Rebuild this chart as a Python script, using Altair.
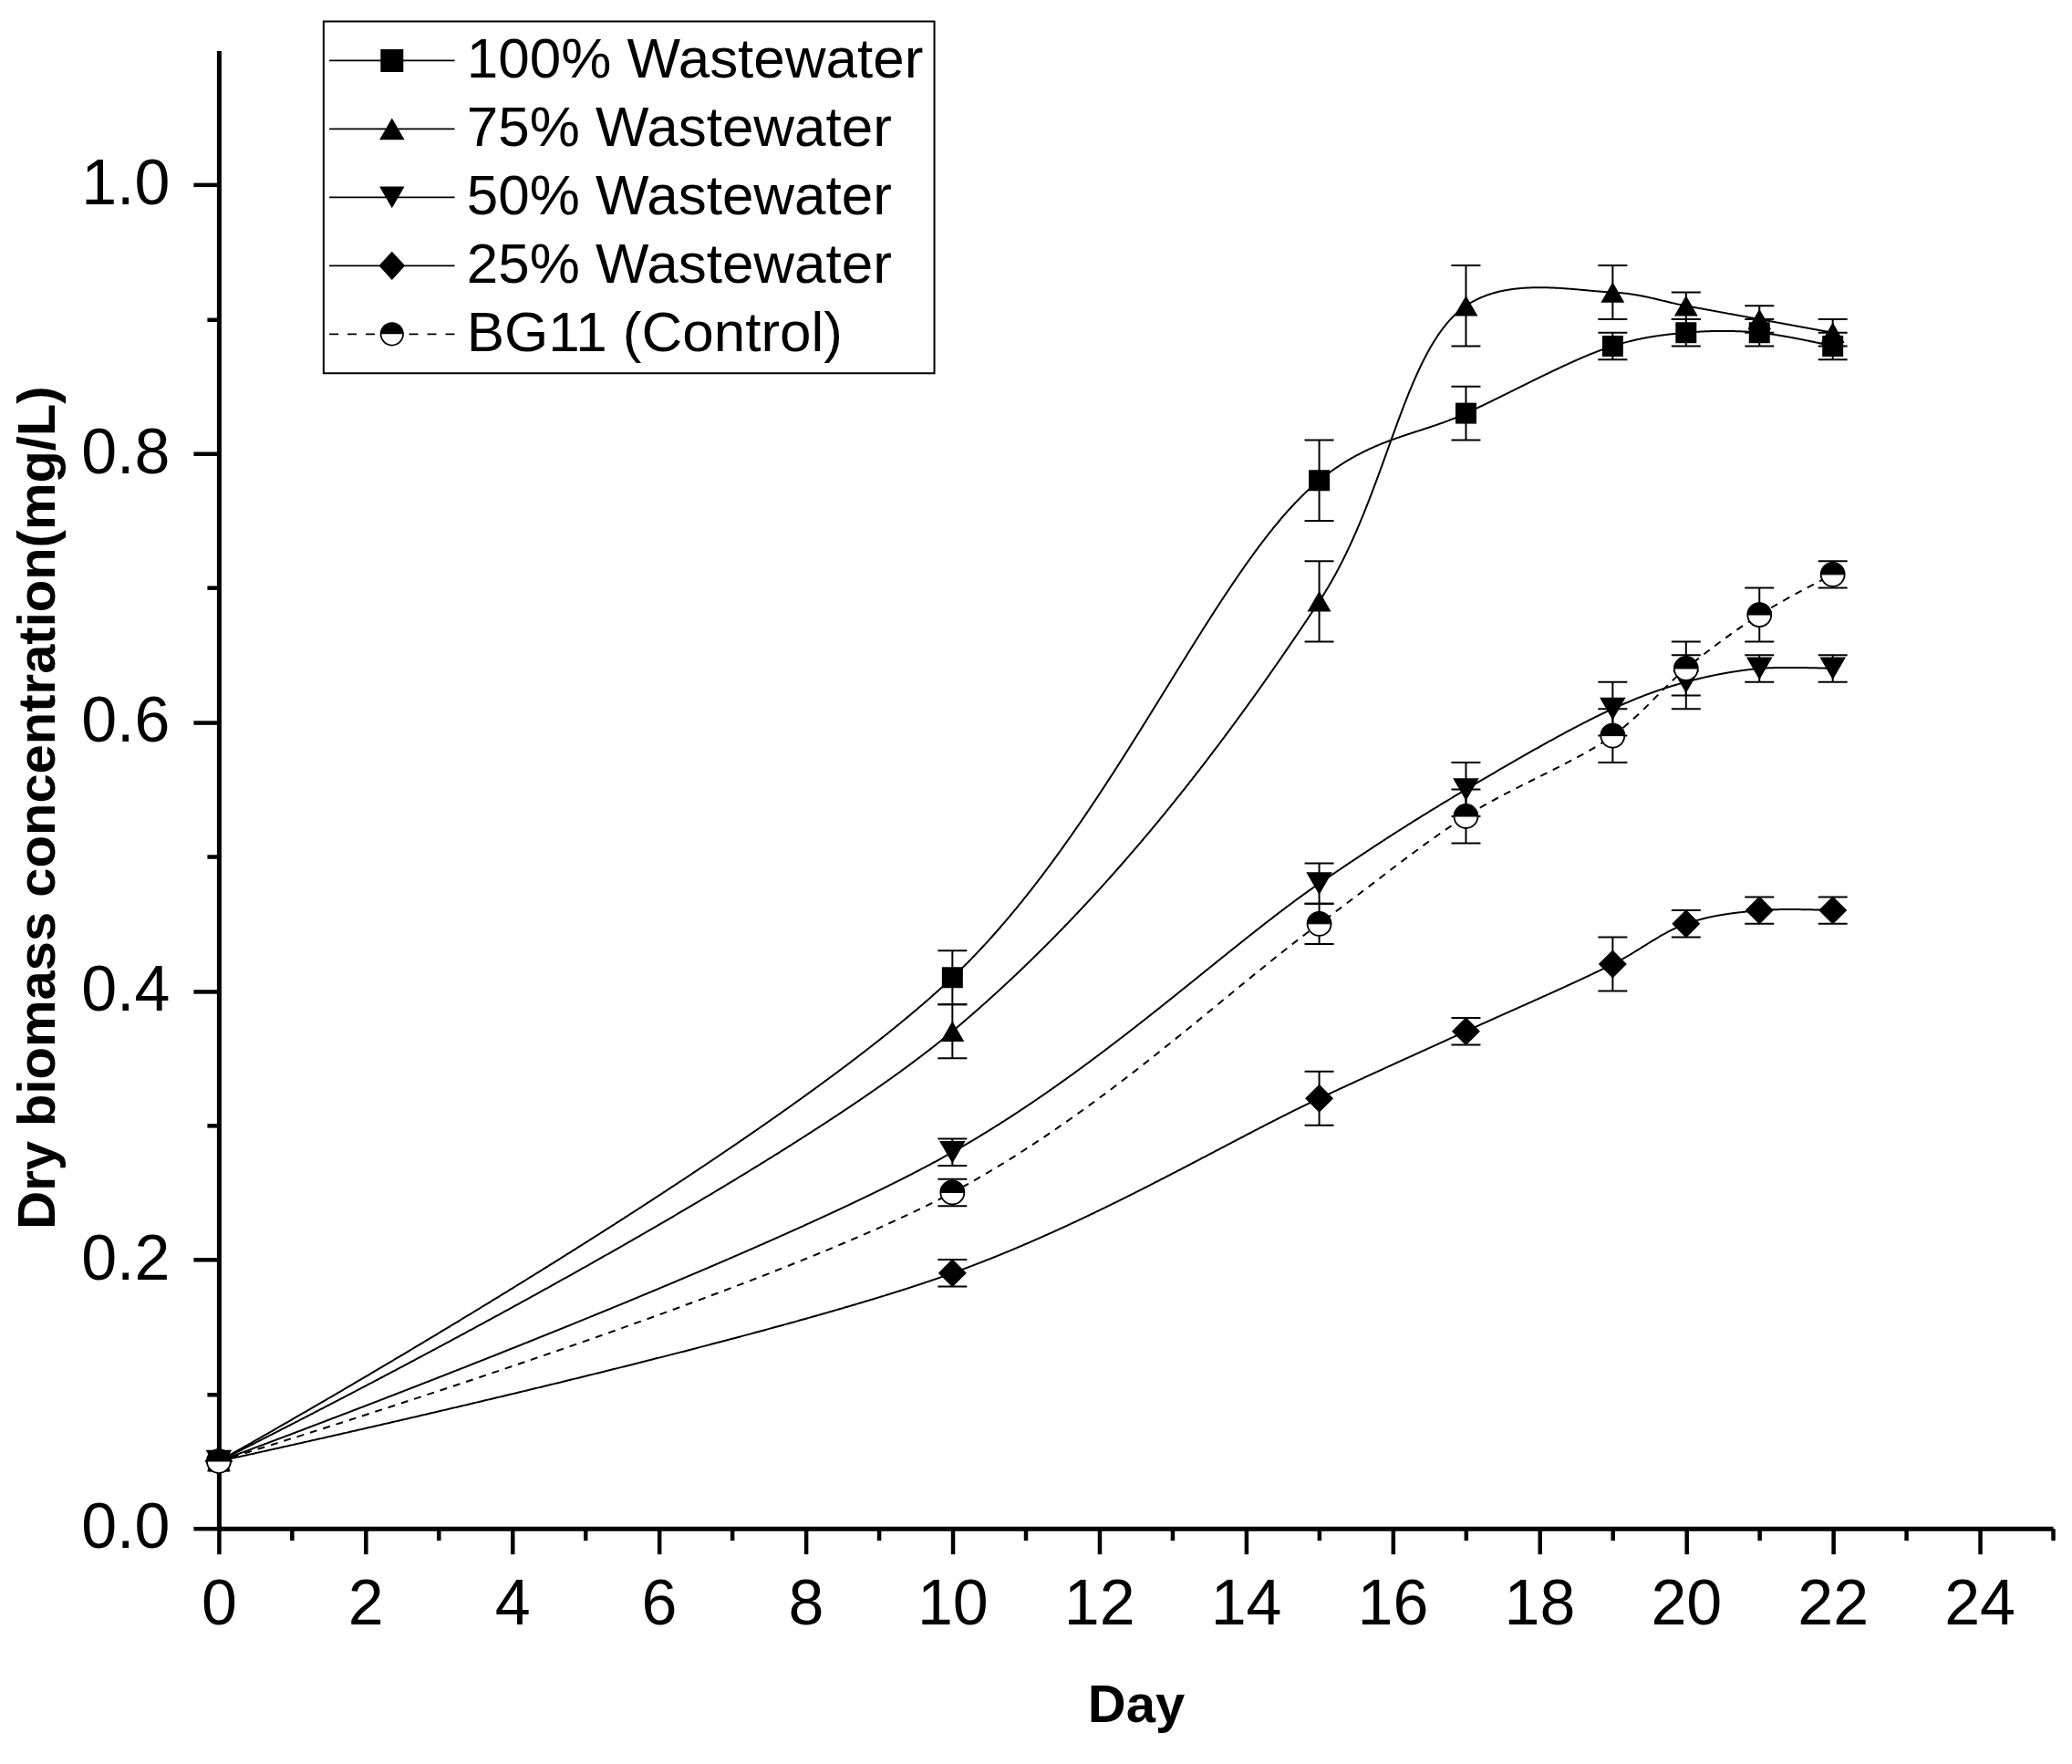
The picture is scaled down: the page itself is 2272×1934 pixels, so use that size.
import altair as alt
import pandas as pd

# ---------------- data ----------------
days = [0, 10, 15, 17, 19, 20, 21, 22]
series_names = ["100% Wastewater", "75% Wastewater", "50% Wastewater",
                "25% Wastewater", "BG11 (Control)"]

ww100 = [0.05, 0.41, 0.78, 0.83, 0.88, 0.89, 0.89, 0.88]
ww100_err = [0.0, 0.02, 0.03, 0.02, 0.01, 0.01, 0.01, 0.01]
ww75 = [0.05, 0.37, 0.69, 0.91, 0.92, 0.91, 0.90, 0.89]
ww75_err = [0.0, 0.02, 0.03, 0.03, 0.02, 0.01, 0.01, 0.01]
ww50 = [0.05, 0.28, 0.48, 0.55, 0.61, 0.63, 0.64, 0.64]
ww50_err = [0.0, 0.01, 0.015, 0.02, 0.02, 0.02, 0.01, 0.01]
ww25 = [0.05, 0.19, 0.32, 0.37, 0.42, 0.45, 0.46, 0.46]
ww25_err = [0.0, 0.01, 0.02, 0.01, 0.02, 0.01, 0.01, 0.01]
bg11 = [0.05, 0.25, 0.45, 0.53, 0.59, 0.64, 0.68, 0.71]
bg11_err = [0.0, 0.01, 0.015, 0.02, 0.02, 0.02, 0.02, 0.01]

x_major = [0, 2, 4, 6, 8, 10, 12, 14, 16, 18, 20, 22, 24]
x_minor = [1, 3, 5, 7, 9, 11, 13, 15, 17, 19, 21, 23, 25]
y_major = [0.0, 0.2, 0.4, 0.6, 0.8, 1.0]
y_minor = [0.1, 0.3, 0.5, 0.7, 0.9]

rows = []
for name, vals, errs in zip(series_names,
                            [ww100, ww75, ww50, ww25, bg11],
                            [ww100_err, ww75_err, ww50_err, ww25_err, bg11_err]):
    for d, v, e in zip(days, vals, errs):
        rows.append({"series": name, "day": d, "value": v, "err": e})
df = pd.DataFrame(rows)

legend_df = pd.DataFrame({"series": series_names,
                          "day": [None] * 5, "value": [None] * 5})

BG = "BG11 (Control)"
FONT = "Liberation Sans"

# ---------------- legend symbol paths (fill only) ----------------
L = 5.5      # half-length of the legend line (in symbol units)
W = 0.07     # half-thickness of the legend line


def bar(a, b):
    return f"M {a} {-W} H {b} V {W} H {a} Z "


leg_line = bar(-L, L)
leg_square = leg_line + "M -1 -1 H 1 V 1 H -1 Z"
leg_tri_up = leg_line + "M 0 -0.95 L 1.1 0.95 L -1.1 0.95 Z"
leg_tri_dn = leg_line + "M 0 0.95 L -1.1 -0.95 L 1.1 -0.95 Z"
leg_diamond = leg_line + "M -1.15 0 L 0 -1.25 L 1.15 0 L 0 1.25 Z"
dashes = (bar(-5.5, -4.7) + bar(-3.9, -3.1) + bar(-2.3, -1.5)
          + bar(1.5, 2.3) + bar(3.1, 3.9) + bar(4.7, 5.5))
leg_half_top = "M -1.05 0 A 1.05 1.05 0 0 1 1.05 0 Z "
leg_ring_bottom = ("M 1.05 0 A 1.05 1.05 0 0 1 -1.05 0 L -0.91 0 "
                   "A 0.91 0.91 0 0 0 0.91 0 Z")
leg_bg = dashes + leg_half_top + leg_ring_bottom

half_top = "M -1 0 A 1 1 0 0 1 1 0 Z"

xs = alt.Scale(domain=[0, 25], nice=False, zero=False)
ys = alt.Scale(domain=[0, 1.1], nice=False, zero=False)

common_axis = dict(grid=False, domainColor="black", tickColor="black",
                   labelColor="black", titleColor="black",
                   labelFont=FONT, titleFont=FONT, tickWidth=4.5,
                   domainWidth=5, labelFlush=False, labelOverlap=False)

x_axis_major = alt.Axis(values=x_major, format="d", title="Day", orient="bottom",
                        tickSize=28, labelFontSize=70, labelPadding=22,
                        titleFontSize=58, titleFontWeight="bold",
                        titlePadding=47, **common_axis)
y_axis_major = alt.Axis(values=y_major, format=".1f",
                        title="Dry biomass concentration(mg/L)", orient="left",
                        tickSize=28, labelFontSize=70, labelPadding=26,
                        titleFontSize=58, titleFontWeight="bold",
                        titlePadding=17, titleY=830, **common_axis)
x_axis_minor = alt.Axis(values=x_minor, labels=False, title=None, orient="bottom",
                        tickSize=13, domain=False, grid=False, tickColor="black",
                        tickWidth=4.5)
y_axis_minor = alt.Axis(values=y_minor, labels=False, title=None, orient="left",
                        tickSize=13, domain=False, grid=False, tickColor="black",
                        tickWidth=4.5)

base = alt.Chart(df)

# error bars
err_rules = base.transform_filter(alt.datum.err > 0).transform_calculate(
    lo="datum.value - datum.err", hi="datum.value + datum.err"
).mark_rule(color="black", strokeWidth=2).encode(
    x=alt.X("day:Q", scale=xs, axis=x_axis_major),
    y=alt.Y("lo:Q", scale=ys, axis=y_axis_major),
    y2="hi:Q",
)

cap_lo = base.transform_filter(alt.datum.err > 0).transform_calculate(
    lo="datum.value - datum.err"
).mark_tick(orient="horizontal", color="black", thickness=2, size=32,
            opacity=1).encode(
    x=alt.X("day:Q", scale=xs, axis=None),
    y=alt.Y("lo:Q", scale=ys, axis=None),
)
cap_hi = base.transform_filter(alt.datum.err > 0).transform_calculate(
    hi="datum.value + datum.err"
).mark_tick(orient="horizontal", color="black", thickness=2, size=32,
            opacity=1).encode(
    x=alt.X("day:Q", scale=xs, axis=None),
    y=alt.Y("hi:Q", scale=ys, axis=None),
)

lines = base.mark_line(interpolate="catmull-rom", color="black", strokeWidth=2).encode(
    x=alt.X("day:Q", scale=xs, axis=x_axis_minor),
    y=alt.Y("value:Q", scale=ys, axis=y_axis_minor),
    strokeDash=alt.StrokeDash(
        "series:N",
        scale=alt.Scale(domain=series_names,
                        range=[[1, 0], [1, 0], [1, 0], [1, 0], [8, 7]]),
        legend=None),
)

points = base.transform_filter(alt.datum.series != BG).mark_point(
    filled=True, color="black", opacity=1).encode(
    x=alt.X("day:Q", scale=xs, axis=None),
    y=alt.Y("value:Q", scale=ys, axis=None),
    shape=alt.Shape("series:N",
                    scale=alt.Scale(domain=series_names[:4],
                                    range=["square", "triangle-up",
                                           "triangle-down", "diamond"]),
                    legend=None),
    size=alt.Size("series:N",
                  scale=alt.Scale(domain=series_names[:4],
                                  range=[529, 961, 961, 961]),
                  legend=None),
)

bg_circle = base.transform_filter(alt.datum.series == BG).mark_point(
    shape="circle", filled=True, fill="white", stroke="black",
    strokeWidth=1.8, size=676, opacity=1).encode(
    x=alt.X("day:Q", scale=xs, axis=None),
    y=alt.Y("value:Q", scale=ys, axis=None),
)
bg_half = base.transform_filter(alt.datum.series == BG).mark_point(
    shape=half_top, filled=True, fill="black", stroke="black",
    strokeWidth=1, size=676, opacity=1).encode(
    x=alt.X("day:Q", scale=xs, axis=None),
    y=alt.Y("value:Q", scale=ys, axis=None),
)

legend_layer = alt.Chart(legend_df).mark_point(
    filled=True, color="black", opacity=1).encode(
    x=alt.X("day:Q", scale=xs, axis=None),
    y=alt.Y("value:Q", scale=ys, axis=None),
    shape=alt.Shape(
        "series:N",
        scale=alt.Scale(domain=series_names,
                        range=[leg_square, leg_tri_up, leg_tri_dn,
                               leg_diamond, leg_bg]),
        legend=alt.Legend(title=None, orient="none", legendX=115, legendY=-32,
                          strokeColor="black", fillColor="white",
                          padding=12, rowPadding=13,
                          labelFont=FONT, labelFontSize=62, labelColor="black",
                          labelLimit=2000, symbolSize=625,
                          symbolOffset=32, labelOffset=51,
                          symbolFillColor="black", symbolOpacity=1)),
)

chart = alt.layer(
    err_rules, cap_lo, cap_hi, lines, points, bg_circle, bg_half, legend_layer
).resolve_scale(
    shape="independent"
).resolve_axis(
    x="independent", y="independent"
).properties(
    width=2012, height=1621,
    padding={"left": 5, "top": 14, "right": 10, "bottom": 10},
    background="white",
).configure_view(
    stroke=None
).configure_legend(
    strokeWidth=2
)

chart.save("out.html", embed_options={"renderer": "svg", "actions": False})
